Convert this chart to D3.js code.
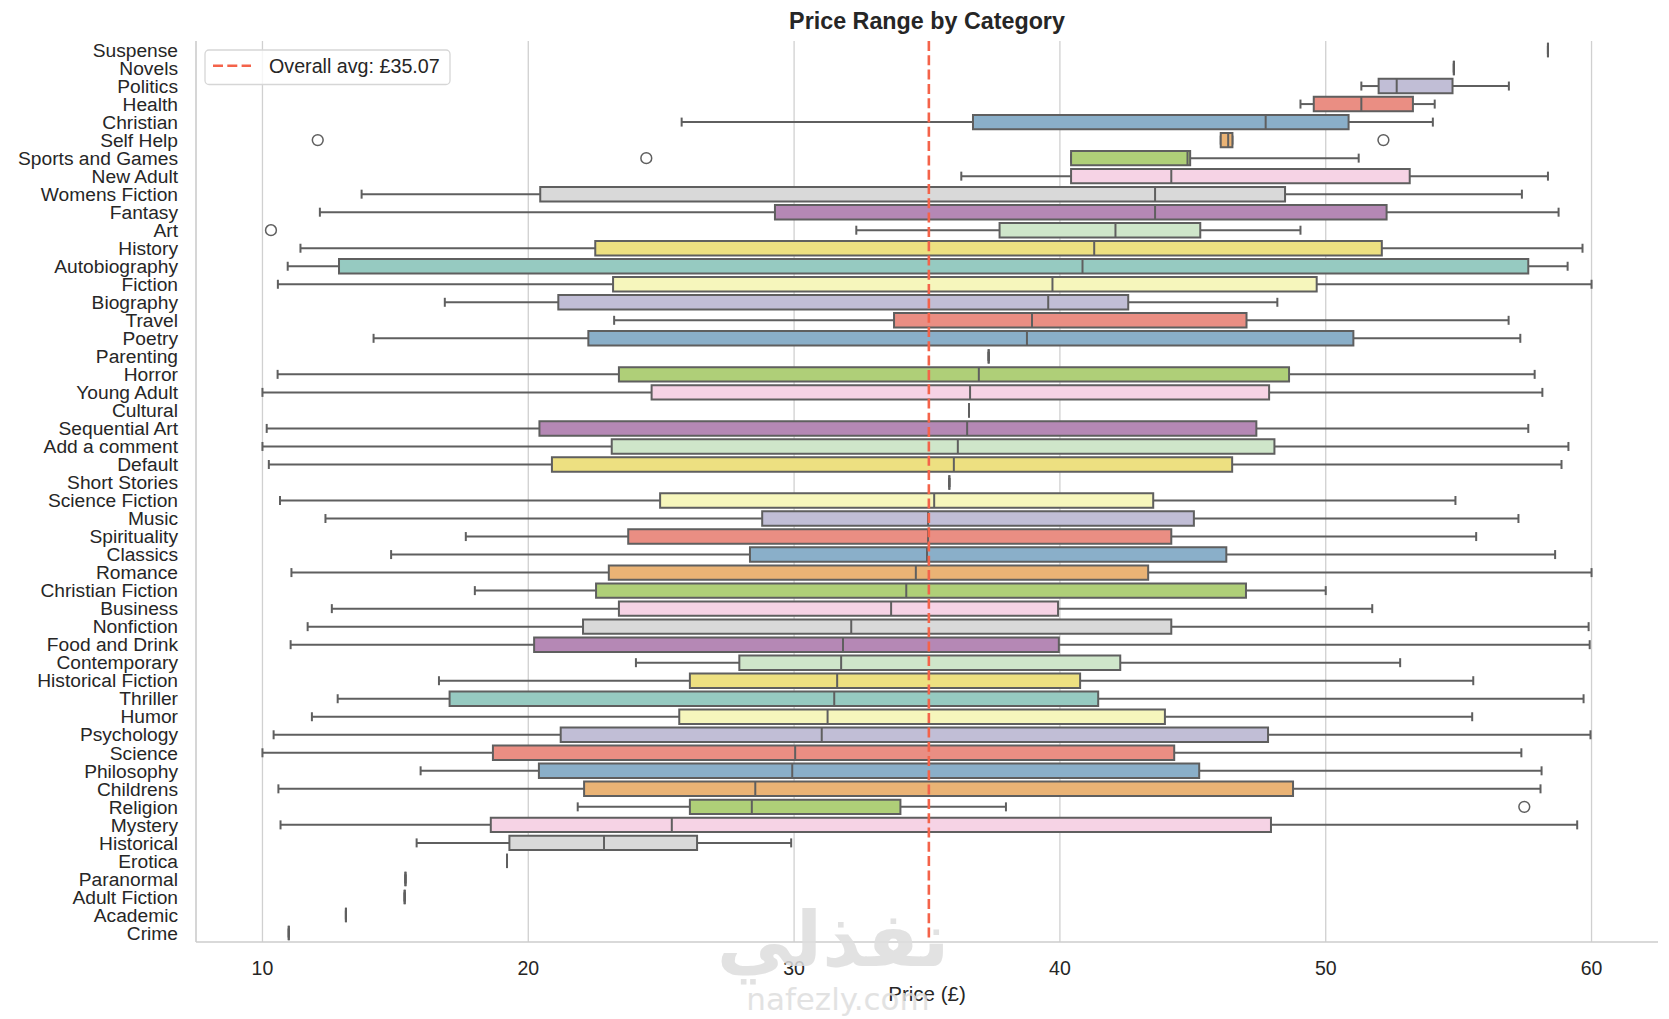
<!DOCTYPE html>
<html>
<head>
<meta charset="utf-8">
<script src="https://cdn.jsdelivr.net/npm/d3@7"></script>
<style>
	body { margin: 0; background: #fff; }
	text { font-family: 'Liberation Sans', Arial, sans-serif; fill: #262626; }
</style>
</head>
<body>
<svg id="chart" width="1669" height="1019"></svg>
<script>
const categories = [
	'Suspense', 'Novels', 'Politics', 'Health', 'Christian', 'Self Help', 'Sports and Games', 'New Adult',
	'Womens Fiction', 'Fantasy', 'Art', 'History', 'Autobiography', 'Fiction', 'Biography', 'Travel', 'Poetry',
	'Parenting', 'Horror', 'Young Adult', 'Cultural', 'Sequential Art', 'Add a comment', 'Default',
	'Short Stories', 'Science Fiction', 'Music', 'Spirituality', 'Classics', 'Romance', 'Christian Fiction',
	'Business', 'Nonfiction', 'Food and Drink', 'Contemporary', 'Historical Fiction', 'Thriller', 'Humor',
	'Psychology', 'Science', 'Philosophy', 'Childrens', 'Religion', 'Mystery', 'Historical', 'Erotica',
	'Paranormal', 'Adult Fiction', 'Academic', 'Crime',
]
const whiskerLow = [
	58.36, 54.82, 51.34, 49.05, 25.77, 46.05, 40.42, 36.29, 13.73, 12.16, 32.34, 11.43, 10.95, 10.58, 16.86, 23.23,
	14.18, 37.32, 10.57, 10.0, 36.58, 10.16, 10.0, 10.24, 35.84, 10.66, 12.37, 17.65, 14.84, 11.09, 17.99, 12.61,
	11.7, 11.06, 24.05, 16.64, 12.83, 11.86, 10.42, 10.0, 15.95, 10.6, 21.86, 10.68, 15.8, 19.2, 15.38, 15.35,
	13.14, 10.99,
]
const q1 = [
	58.36, 54.82, 51.99, 49.55, 36.73, 46.05, 40.42, 40.42, 20.45, 29.28, 37.73, 22.52, 12.88, 23.19, 21.13, 33.76,
	22.26, 37.32, 23.41, 24.64, 36.58, 20.42, 23.14, 20.89, 35.84, 24.96, 28.8, 23.76, 28.34, 23.03, 22.55, 23.41,
	22.06, 20.22, 27.94, 26.08, 17.04, 25.68, 21.22, 18.67, 20.4, 22.1, 26.08, 18.59, 19.29, 19.2, 15.38, 15.35,
	13.14, 10.99,
]
const medians = [
	58.36, 54.82, 52.67, 51.34, 47.74, 46.33, 44.8, 44.19, 43.58, 43.58, 42.09, 41.29, 40.85, 39.72, 39.56, 38.95,
	38.76, 37.32, 36.95, 36.62, 36.58, 36.51, 36.16, 36.01, 35.84, 35.27, 35.04, 35.04, 35.0, 34.58, 34.22, 33.65,
	32.15, 31.84, 31.77, 31.62, 31.51, 31.26, 31.04, 30.04, 29.93, 28.54, 28.41, 25.4, 22.85, 19.2, 15.38, 15.35,
	13.14, 10.99,
]
const q3 = [
	58.36, 54.82, 54.77, 53.28, 50.86, 46.49, 44.9, 53.16, 48.47, 52.29, 45.28, 52.11, 57.62, 49.66, 42.57, 47.02,
	51.04, 37.32, 48.62, 47.87, 36.58, 47.39, 48.07, 46.48, 35.84, 43.51, 45.04, 44.19, 46.26, 43.32, 47.0, 39.93,
	44.19, 39.96, 42.27, 40.76, 41.44, 43.95, 47.83, 44.3, 45.24, 48.77, 34.0, 47.94, 26.35, 19.2, 15.38, 15.35,
	13.14, 10.99,
]
const whiskerHigh = [
	58.36, 54.82, 56.89, 54.1, 54.03, 46.49, 51.24, 58.36, 57.38, 58.76, 49.05, 59.66, 59.1, 60.0, 48.18, 56.88,
	57.32, 37.32, 57.86, 58.15, 36.58, 57.62, 59.13, 58.87, 35.84, 54.88, 57.25, 55.66, 58.63, 60.0, 50.0, 51.75,
	59.89, 59.93, 52.8, 55.55, 59.7, 55.51, 59.96, 57.36, 58.12, 58.08, 37.97, 59.46, 29.89, 19.2, 15.38, 15.35,
	13.14, 10.99,
]
const outliers = [
	['Self Help', 12.08], ['Self Help', 52.17], ['Sports and Games', 24.44], ['Art', 10.32], ['Religion', 57.47],
]
const overallAvg = 35.07
const xTicks = [10, 20, 30, 40, 50, 60]
const palette = ['#8dd3c7', '#ffffb3', '#bebada', '#fb8072', '#80b1d3', '#fdb462', '#b3de69', '#fccde5', '#d9d9d9', '#bc80bd', '#ccebc5', '#ffed6f']

const svg = d3.select('#chart')
const plotLeft = 196
const plotRight = 1658
const plotTop = 41
const plotBottom = 942
const lineColor = '#5f5f5f'

const x = d3.scaleLinear().domain([7.5, 62.5]).range([plotLeft, plotRight])
const y = d3.scaleBand().domain(categories).range([plotTop, plotBottom])
const bw = y.bandwidth()
const boxH = bw * 0.8
const capH = 4.5

// seaborn desaturates the palette to 75 %
const desat = c => {
	const h = d3.hsl(c)
	h.s *= 0.75
	return h.formatHex()
}

const rows = categories.map((c, i) => ({
	cat: c,
	lo: whiskerLow[i],
	q1: q1[i],
	med: medians[i],
	q3: q3[i],
	hi: whiskerHigh[i],
	color: desat(palette[i % palette.length]),
	cy: y(c) + bw / 2,
}))

// grid
svg.append('g')
	.selectAll('line')
	.data(xTicks)
	.enter()
	.append('line')
	.attr('x1', d => x(d))
	.attr('x2', d => x(d))
	.attr('y1', plotTop)
	.attr('y2', plotBottom)
	.attr('stroke', '#d0d0d0')
	.attr('stroke-width', 1.3)

// spines
svg.append('line')
	.attr('x1', plotLeft).attr('x2', plotLeft).attr('y1', plotTop).attr('y2', plotBottom)
	.attr('stroke', '#cccccc').attr('stroke-width', 1.6)
svg.append('line')
	.attr('x1', plotLeft).attr('x2', plotRight).attr('y1', plotBottom).attr('y2', plotBottom)
	.attr('stroke', '#cccccc').attr('stroke-width', 1.6)

const boxes = svg.append('g').attr('class', 'boxes')
const g = boxes.selectAll('g').data(rows).enter().append('g')

g.append('line')
	.attr('x1', d => x(d.lo)).attr('x2', d => x(d.q1))
	.attr('y1', d => d.cy).attr('y2', d => d.cy)
	.attr('stroke', lineColor).attr('stroke-width', 2)
g.append('line')
	.attr('x1', d => x(d.q3)).attr('x2', d => x(d.hi))
	.attr('y1', d => d.cy).attr('y2', d => d.cy)
	.attr('stroke', lineColor).attr('stroke-width', 2)
g.selectAll('line.cap')
	.data(d => [[d.lo, d.cy], [d.hi, d.cy]])
	.enter()
	.append('line')
	.attr('class', 'cap')
	.attr('x1', d => x(d[0])).attr('x2', d => x(d[0]))
	.attr('y1', d => d[1] - capH).attr('y2', d => d[1] + capH)
	.attr('stroke', lineColor).attr('stroke-width', 2)
g.append('path')
	.attr('d', d => {
		const x0 = x(d.q1)
		const x1 = x(d.q3)
		const y0 = d.cy - boxH / 2
		const y1 = d.cy + boxH / 2
		return `M${x0},${y0}H${x1}V${y1}H${x0}Z`
	})
	.attr('fill', d => d.color)
	.attr('stroke', lineColor)
	.attr('stroke-width', 2)
g.append('line')
	.attr('x1', d => x(d.med)).attr('x2', d => x(d.med))
	.attr('y1', d => d.cy - boxH / 2).attr('y2', d => d.cy + boxH / 2)
	.attr('stroke', lineColor).attr('stroke-width', 2)

svg.append('g')
	.selectAll('circle')
	.data(outliers)
	.enter()
	.append('circle')
	.attr('cx', d => x(d[1]))
	.attr('cy', d => y(d[0]) + bw / 2)
	.attr('r', 5.4)
	.attr('fill', 'none')
	.attr('stroke', lineColor)
	.attr('stroke-width', 1.5)

// overall average
const avgColor = '#f4634a'
svg.append('line')
	.attr('x1', x(overallAvg)).attr('x2', x(overallAvg))
	.attr('y1', plotTop).attr('y2', plotBottom)
	.attr('stroke', avgColor)
	.attr('stroke-width', 2.6)
	.attr('stroke-dasharray', '10,4.3')

// y labels
svg.append('g')
	.selectAll('text')
	.data(categories)
	.enter()
	.append('text')
	.attr('x', 178)
	.attr('y', d => y(d) + bw / 2)
	.attr('dy', '0.35em')
	.attr('text-anchor', 'end')
	.style('font-size', '19.2px')
	.text(d => d)

// x labels
svg.append('g')
	.selectAll('text')
	.data(xTicks)
	.enter()
	.append('text')
	.attr('x', d => x(d))
	.attr('y', 975)
	.attr('text-anchor', 'middle')
	.style('font-size', '19.5px')
	.text(d => d)

svg.append('text')
	.attr('x', (plotLeft + plotRight) / 2)
	.attr('y', 1001)
	.attr('text-anchor', 'middle')
	.style('font-size', '20.5px')
	.text('Price (£)')

svg.append('text')
	.attr('x', (plotLeft + plotRight) / 2)
	.attr('y', 29)
	.attr('text-anchor', 'middle')
	.style('font-size', '23.3px')
	.style('font-weight', 'bold')
	.text('Price Range by Category')

// legend
const legend = svg.append('g')
legend.append('rect')
	.attr('x', 205).attr('y', 50).attr('width', 245).attr('height', 34.5)
	.attr('rx', 4)
	.attr('fill', '#ffffff').attr('fill-opacity', 0.8)
	.attr('stroke', '#d6d6d6').attr('stroke-width', 1.3)
legend.append('line')
	.attr('x1', 213).attr('x2', 251).attr('y1', 65.7).attr('y2', 65.7)
	.attr('stroke', avgColor).attr('stroke-width', 2.6)
	.attr('stroke-dasharray', '10,4.3')
legend.append('text')
	.attr('x', 269).attr('y', 72.5)
	.style('font-size', '19.7px')
	.text('Overall avg: £' + overallAvg.toFixed(2))

// watermark, sits over the plot as in the source image
const wm = svg.append('g').attr('opacity', 0.85)
wm.append('text')
	.attr('x', 833).attr('y', 966)
	.attr('text-anchor', 'middle')
	.style('font-family', "'DejaVu Sans', sans-serif")
	.style('font-weight', 'bold')
	.style('font-size', '76px')
	.style('fill', '#dedede')
	.text('نفذلي')
wm.append('text')
	.attr('x', 838).attr('y', 1010)
	.attr('text-anchor', 'middle')
	.style('font-family', "'DejaVu Sans', sans-serif")
	.style('font-size', '31px')
	.style('fill', '#dedede')
	.text('nafezly.com')
</script>
</body>
</html>
